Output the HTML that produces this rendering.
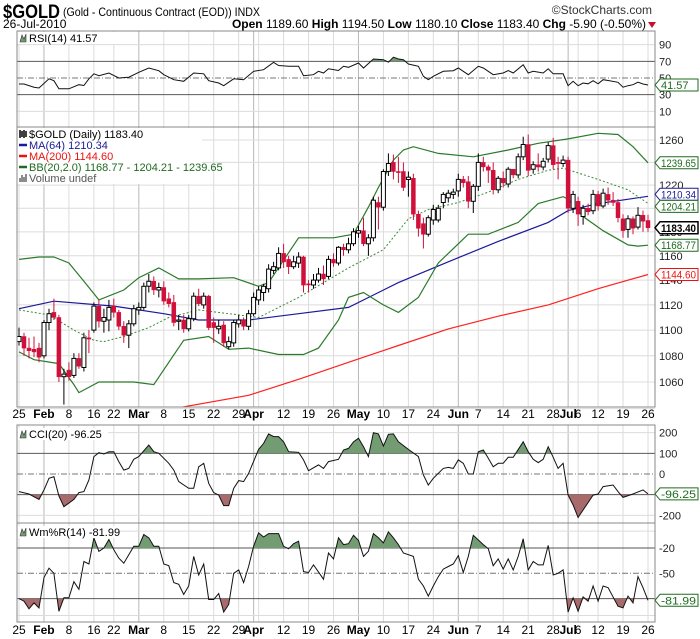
<!DOCTYPE html>
<html><head><meta charset="utf-8"><style>
html,body{margin:0;padding:0;background:#fff;}
svg{display:block;font-family:"Liberation Sans",Arial,sans-serif;}
</style></head><body>
<svg id="chart" width="700" height="639" viewBox="0 0 700 639" xmlns="http://www.w3.org/2000/svg"></svg>
<script>
// ---------- DATA ----------
const openP=[1091,1095,1086,1085,1086,1080,1106,1114,1110,1064,1069,1065,1078,1071,1094,1100,1119,1107,1108,1119,1114,1103,1096,1105,1116,1118,1135,1139,1132,1134,1125,1122,1107,1108,1101,1109,1127,1120,1127,1106,1101,1104,1087,1090,1105,1108,1103,1113,1124,1130,1133,1148,1150,1162,1157,1151,1154,1159,1137,1136,1140,1145,1143,1157,1154,1167,1165,1170,1179,1181,1170,1175,1205,1201,1232,1240,1232,1232,1225,1226,1195,1187,1178,1190,1190,1205,1209,1212,1215,1225,1223,1206,1219,1240,1236,1233,1216,1226,1221,1234,1229,1245,1256,1234,1238,1236,1243,1255,1240,1239,1242,1200,1206,1193,1200,1198,1212,1202,1212,1207,1205,1191,1182,1191,1184,1194,1189.6];
const highP=[1102,1098,1094,1095,1090,1108,1117,1125,1112,1070,1075,1082,1082,1098,1100,1122,1124,1117,1124,1125,1116,1107,1108,1120,1122,1138,1145,1143,1138,1139,1130,1128,1112,1112,1112,1130,1133,1130,1128,1110,1108,1107,1095,1108,1112,1110,1116,1130,1135,1137,1153,1155,1167,1170,1160,1160,1163,1160,1140,1145,1150,1152,1160,1162,1168,1170,1175,1183,1185,1192,1178,1210,1210,1234,1248,1247,1245,1240,1232,1230,1198,1192,1194,1203,1203,1214,1216,1217,1230,1228,1228,1221,1248,1245,1238,1240,1228,1232,1236,1233,1248,1263,1265,1241,1248,1244,1258,1262,1245,1246,1245,1215,1210,1203,1204,1216,1215,1217,1218,1214,1208,1195,1194,1193,1201,1198,1194.5];
const lowP=[1088,1080,1078,1079,1075,1078,1100,1108,1060,1043,1061,1063,1070,1068,1082,1098,1102,1098,1099,1110,1100,1090,1086,1103,1112,1116,1130,1128,1126,1120,1118,1103,1100,1098,1099,1107,1119,1117,1100,1090,1097,1087,1085,1087,1102,1100,1100,1111,1120,1123,1130,1145,1148,1150,1145,1149,1150,1130,1130,1133,1138,1136,1141,1151,1152,1160,1162,1168,1175,1168,1160,1172,1182,1198,1228,1225,1222,1215,1210,1190,1176,1166,1176,1186,1188,1200,1205,1208,1210,1218,1200,1196,1215,1232,1222,1212,1213,1218,1218,1226,1226,1242,1228,1230,1232,1233,1240,1234,1225,1236,1196,1196,1185,1186,1194,1195,1198,1200,1203,1202,1188,1175,1175,1178,1182,1180,1180.1];
const closeP=[1095,1086,1084,1083,1079,1106,1113,1110,1064,1066,1064,1078,1072,1094,1093,1119,1107,1110,1118,1114,1103,1096,1105,1117,1118,1135,1139,1132,1134,1123,1121,1106,1108,1101,1109,1127,1121,1127,1102,1102,1103,1090,1091,1106,1108,1103,1113,1126,1132,1135,1149,1151,1162,1155,1151,1155,1159,1136,1136,1140,1145,1141,1157,1154,1167,1165,1170,1180,1181,1170,1175,1207,1201,1232,1239,1232,1231,1218,1227,1195,1183,1178,1192,1199,1200,1212,1213,1214,1225,1222,1206,1219,1240,1236,1233,1216,1226,1222,1234,1229,1245,1256,1233,1238,1236,1241,1255,1238,1239,1242,1200,1212,1195,1200,1197,1212,1202,1213,1207,1205,1192,1181,1191,1183,1194,1189,1183.4];
const tickIdx=[0,5,10,15,19,24,29,34,39,44,47,53,58,63,68,73,78,83,88,92,97,102,107,110,112,116,121,126];
const tickLbl=["25","Feb","8","16","22","Mar","8","15","22","29","Apr","12","19","26","May","10","17","24","Jun","7","14","21","28","Jul","6","12","19","26"];
const tickMonth=[0,1,0,0,0,1,0,0,0,0,1,0,0,0,1,0,0,0,1,0,0,0,0,1,0,0,0,0];
const weekIdx=[0,5,10,15,19,24,29,34,39,44,48,53,58,63,68,73,78,83,88,92,97,102,107,112,116,121,126];
const monthIdx=[5,24,47,68,88,110];
const priceTicks=[1060,1080,1100,1120,1140,1160,1180,1200,1220,1240,1260];
const ma64Idx=[0,7,19,29,36,46,56,66,76,86,96,106,110,116,126];
const ma64Val=[1117,1123,1119,1113,1108,1108,1113,1118,1138,1155,1172,1188,1198,1204,1210.34];
const ma200Idx=[31,46,56,66,76,86,96,106,116,126];
const ma200Val=[1040,1050,1062,1075,1088,1101,1111,1120,1133,1144.6];
const bbUpIdx=[0,4,7,10,13,16,21,24,28,32,36,43,48,50,56,63,67,70,72,75,77,79,84,91,98,104,110,116,120,123,126];
const bbUpVal=[1157,1159,1159,1154,1139,1124,1132,1142,1150,1141,1141,1142,1135,1138,1175,1175,1178,1201,1218,1242,1251,1254,1248,1245,1251,1257,1261,1266,1265,1254,1239.65];
const bbLoIdx=[0,3,8,11,12,16,23,27,30,33,38,42,46,52,57,60,64,66,69,73,76,80,84,88,90,94,100,104,109,110,113,117,122,124,126];
const bbLoVal=[1083,1077,1074,1058,1052,1060,1060,1058,1075,1092,1095,1085,1086,1081,1081,1086,1108,1126,1130,1120,1114,1126,1154,1170,1178,1178,1188,1204,1210,1208,1193,1181,1169,1168,1168.77];
const bbMidIdx=[0,6,11,15,17,21,26,30,36,44,48,56,66,73,78,82,88,94,100,106,109,116,122,126];
const bbMidVal=[1116,1112,1100,1092,1091,1095,1102,1110,1116,1112,1110,1126,1150,1165,1191,1199,1205,1214,1225,1233,1235,1225,1216,1204.21];
const rsiIdx=[0,1,3,4,6,7,8,10,12,13,14,15,16,18,20,22,24,26,28,29,31,33,35,37,38,40,41,43,45,47,49,51,52,54,56,57,59,60,61,62,64,65,66,68,69,71,73,74,75,76,77,78,80,81,82,83,85,87,88,90,92,93,95,97,98,99,101,102,103,105,106,107,109,110,111,112,113,114,115,116,117,118,120,121,122,123,124,125,126];
const rsiVal=[42.8,42.8,39,38,49,46.8,37,37,42,41,49,55,52.8,56,50,51,56.8,62,58.8,54,48,46,56,55,46.8,44,40.8,49,48,58,60,68.8,65,64,64,52.8,54,58,56,61,59,64,62.8,68,62,72.8,72,69,75,72.8,72,66.8,64,52,48,52,58,58.8,62,54,64,62,54,56,59,56,66,56,58,56,61,55,55,40.8,46,40.8,44,43,46.8,43,48,47,44.8,39,40.8,42,45,42.8,41.57];
const cciIdx=[0,2,4,5,6,7,8,9,11,12,13,14,15,16,17,18,19,20,21,22,23,24,26,27,28,30,31,32,34,35,36,37,38,39,40,41,42,43,44,45,46,48,49,50,51,52,53,54,56,57,58,60,61,62,64,65,66,67,68,69,70,71,72,73,74,75,76,78,80,81,82,83,85,86,87,88,89,90,91,92,93,94,95,96,97,98,99,101,102,103,104,105,106,107,108,109,110,111,112,113,115,116,117,119,120,121,123,125,126];
const cciVal=[-85,-97,-123,-77,-21,-13,-106,-158,-123,-90,-85,-29,84,103,97,108,108,60,19,27,71,84,140,108,100,52,19,-37,-69,-69,35,52,-45,-90,-102,-153,-153,-69,-32,-37,3,119,148,194,181,181,156,108,105,68,16,44,27,60,71,116,124,156,173,132,84,200,194,135,192,194,156,119,84,-5,-53,-21,27,32,27,68,52,0,0,108,116,76,35,52,52,81,81,156,108,71,55,71,132,81,27,52,-102,-150,-210,-174,-102,-97,-61,-53,-85,-113,-97,-77,-96.25];
const wrIdx=[0,1,2,3,4,5,6,7,8,9,10,11,12,13,14,15,16,17,18,19,20,21,22,23,24,25,26,27,28,29,30,31,32,33,34,35,36,37,38,39,40,41,42,43,44,45,46,47,48,49,50,52,53,54,55,56,57,58,59,61,62,63,64,65,66,67,68,69,70,71,72,73,74,75,76,77,79,80,81,82,83,84,85,86,87,88,89,90,91,93,94,95,96,97,98,99,100,101,102,103,104,105,106,107,108,109,110,111,112,113,114,115,116,117,118,120,121,122,123,124,125,126];
const wrVal=[-80,-83,-92,-85,-91,-55,-44,-50,-95,-79,-79,-60,-69,-36,-39,-8,-24,-20,-10,-22,-32,-38,-28,-18,-18,-4,-8,-18,-18,-39,-41,-61,-63,-75,-65,-30,-52,-39,-81,-81,-74,-96,-87,-50,-46,-61,-42,-18,-2,-7,-3,-3,-18,-21,-15,-12,-48,-49,-40,-57,-26,-33,-8,-16,-15,-5,-11,-30,-24,-3,-8,-14,-1,-8,-16,-26,-30,-57,-65,-77,-65,-54,-45,-42,-39,-29,-49,-30,-5,-16,-21,-41,-33,-45,-33,-46,-30,-9,-46,-36,-40,-40,-17,-52,-50,-46,-96,-79,-95,-78,-83,-65,-83,-65,-67,-89,-91,-77,-85,-54,-67,-81.99];

// ---------- SCALES ----------
const NS="http://www.w3.org/2000/svg";
const svg=document.getElementById('chart');
const L=17,R=655;
const N=closeP.length;
function xOf(i){return 19+i*(648-19)/(N-1);}
function yMain(p){return 140+1400*(Math.log(1260)-Math.log(p));}
function yRsi(v){return 78-(v-50)*0.8333;}
function yCci(v){return 474-v*0.2067;}
function yWr(v){return 573.3-(v+50)*0.8444;}
function mk(tag,attrs,parent){const e=document.createElementNS(NS,tag);for(const k in attrs)e.setAttribute(k,attrs[k]);(parent||svg).appendChild(e);return e;}
function txt(x,y,s,attrs,parent){const e=mk('text',Object.assign({x:x,y:y},attrs||{}),parent);e.textContent=s;return e;}
function pts(idx,val,yf){return idx.map((i,k)=>xOf(i).toFixed(1)+','+yf(val[k]).toFixed(1)).join(' ');}

// ---------- HEADER ----------
let t;
t=txt(3,18,'$GOLD',{'font-size':'19','font-weight':'bold','textLength':'57','lengthAdjust':'spacingAndGlyphs'});

t=txt(63,16,'(Gold - Continuous Contract (EOD))  INDX',{'font-size':'12','textLength':'197','lengthAdjust':'spacingAndGlyphs'});

t=txt(652,14,'©StockCharts.com',{'font-size':'12','fill':'#333','text-anchor':'end'});

t=txt(3,28,'26-Jul-2010',{'font-size':'12'});

t=mk('text',{x:646,y:28,'font-size':'12','text-anchor':'end'});

t.innerHTML='<tspan font-weight="bold">Open</tspan> 1189.60 <tspan font-weight="bold">High</tspan> 1194.50 <tspan font-weight="bold">Low</tspan> 1180.10 <tspan font-weight="bold">Close</tspan> 1183.40 <tspan font-weight="bold">Chg</tspan> -5.90 (-0.50%)';
t=mk('path',{d:'M648,22 L656,22 L652,28 Z',fill:'#c8102e'});


// ---------- PANELS ----------
const panels=[{n:'rsi-panel',y0:31,y1:127},{n:'price-panel',y0:127,y1:407},{n:'cci-panel',y0:425,y1:523},{n:'williams-panel',y0:523,y1:622}];
panels.forEach(p=>{
  const r=mk('rect',{x:L,y:p.y0,width:R-L,height:p.y1-p.y0,fill:'#fff',stroke:'none'});
  
  weekIdx.forEach(i=>{
    const isM=monthIdx.indexOf(i)>=0;
    const g=mk('line',{x1:xOf(i),x2:xOf(i),y1:p.y0,y2:p.y1,stroke:isM?'#b8b8b8':'#dcdcdc','stroke-width':1});
    
  });
  monthIdx.forEach(i=>{
    if(weekIdx.indexOf(i)<0){const g=mk('line',{x1:xOf(i),x2:xOf(i),y1:p.y0,y2:p.y1,stroke:'#b8b8b8','stroke-width':1});
    }
  });
});
function hline(y,kind,name){
  const a={x1:L,x2:R,y1:y,y2:y,'stroke-width':1};
  if(kind==='grid'){a.stroke='#dcdcdc';}
  else if(kind==='dark'){a.stroke='#555';}
  else {a.stroke='#777';a['stroke-dasharray']='6,2,1,2';}
  const l=mk('line',a);
}
function rlabel(y,s,name){const e=txt(659,y+4,s,{'font-size':'11','fill':'#222'});}

[90,10].forEach(v=>{hline(yRsi(v),'grid','rsi-gridline');});
hline(yRsi(70),'dark','rsi-overbought-line');hline(yRsi(30),'dark','rsi-oversold-line');hline(yRsi(50),'dash','rsi-midline');
[90,70,50,30,10].forEach(v=>rlabel(yRsi(v),String(v),'rsi-axis-label'));
priceTicks.forEach(v=>{hline(yMain(v),'grid','price-gridline');rlabel(yMain(v),String(v),'price-axis-label');});
hline(yMain(1040),'grid','price-gridline');
hline(yCci(200),'grid','cci-gridline');hline(yCci(-200),'grid','cci-gridline');
hline(yCci(100),'dark','cci-upper-line');hline(yCci(-100),'dark','cci-lower-line');hline(yCci(0),'dash','cci-zero-line');
[200,100,0,-200].forEach(v=>rlabel(yCci(v),String(v),'cci-axis-label'));
hline(yWr(0),'grid','williams-gridline');hline(yWr(-100),'grid','williams-gridline');
hline(yWr(-20),'dark','williams-upper-line');hline(yWr(-80),'dark','williams-lower-line');hline(yWr(-50),'dash','williams-midline');
[-20,-50].forEach(v=>rlabel(yWr(v),String(v),'williams-axis-label'));

// ---------- OSCILLATOR FILLS + LINES ----------
let clipN=0;
function oscFill(idx,val,yf,th,above,color,y0,y1,name){
  const yT=yf(th);
  const id='c'+(clipN++);
  const cp=mk('clipPath',{id:id});
  mk('rect',{x:L,y:above?y0:yT,width:R-L,height:above?(yT-y0):(y1-yT)},cp);
  const p=pts(idx,val,yf)+' '+xOf(idx[idx.length-1]).toFixed(1)+','+yT+' '+xOf(idx[0]).toFixed(1)+','+yT;
  const pg=mk('polygon',{points:p,fill:color,'clip-path':'url(#'+id+')'});
  
}
const GF='#739c72',RF='#a86b6b';
oscFill(rsiIdx,rsiVal,yRsi,70,true,GF,31,127,'rsi-overbought-fill');
oscFill(rsiIdx,rsiVal,yRsi,30,false,RF,31,127,'rsi-oversold-fill');
oscFill(cciIdx,cciVal,yCci,100,true,GF,425,523,'cci-overbought-fill');
oscFill(cciIdx,cciVal,yCci,-100,false,RF,425,523,'cci-oversold-fill');
oscFill(wrIdx,wrVal,yWr,-20,true,GF,523,622,'williams-overbought-fill');
oscFill(wrIdx,wrVal,yWr,-80,false,RF,523,622,'williams-oversold-fill');
t=mk('polyline',{points:pts(rsiIdx,rsiVal,yRsi),fill:'none',stroke:'#111','stroke-width':1});

t=mk('polyline',{points:pts(cciIdx,cciVal,yCci),fill:'none',stroke:'#111','stroke-width':1});

t=mk('polyline',{points:pts(wrIdx,wrVal,yWr),fill:'none',stroke:'#111','stroke-width':1});


// ---------- PRICE OVERLAYS ----------
const mainClip=mk('clipPath',{id:'mainclip'});
mk('rect',{x:L,y:127,width:R-L,height:280},mainClip);
const gMain=mk('g',{'clip-path':'url(#mainclip)'});

t=mk('polyline',{points:pts(ma200Idx,ma200Val,yMain),fill:'none',stroke:'#ff2020','stroke-width':1.2},gMain);

t=mk('polyline',{points:pts(ma64Idx,ma64Val,yMain),fill:'none',stroke:'#1a1a9a','stroke-width':1.2},gMain);

t=mk('polyline',{points:pts(bbUpIdx,bbUpVal,yMain),fill:'none',stroke:'#2a7a2a','stroke-width':1.2},gMain);

t=mk('polyline',{points:pts(bbLoIdx,bbLoVal,yMain),fill:'none',stroke:'#2a7a2a','stroke-width':1.2},gMain);

t=mk('polyline',{points:pts(bbMidIdx,bbMidVal,yMain),fill:'none',stroke:'#3a8a3a','stroke-width':1,'stroke-dasharray':'2,2'},gMain);


for(let i=0;i<N;i++){
  const x=xOf(i),o=openP[i],c=closeP[i];
  const up=c>=o;
  const col=up?'#000':'#d0103a';
  const w=mk('line',{x1:x.toFixed(1),x2:x.toFixed(1),y1:yMain(highP[i]).toFixed(1),y2:yMain(lowP[i]).toFixed(1),stroke:col,'stroke-width':1},gMain);
  
  const yt=yMain(Math.max(o,c)),yb=yMain(Math.min(o,c));
  const b=mk('rect',{x:(x-2).toFixed(1),y:yt.toFixed(1),width:4,height:Math.max(1,yb-yt).toFixed(1),fill:up?'#fff':'#d0103a',stroke:up?'#000':'#d0103a','stroke-width':up?1:0.5},gMain);
  
}

panels.forEach(p=>{
  const r=mk('rect',{x:L,y:p.y0,width:R-L,height:p.y1-p.y0,fill:'none',stroke:'#888','stroke-width':1});
  
});

// ---------- X AXES ----------
[418,634].forEach((yy,ax)=>{
  tickIdx.forEach((i,k)=>{
    const e=txt(xOf(i),yy,tickLbl[k],{'font-size':'12','text-anchor':'middle','font-weight':tickMonth[k]?'bold':'normal'});
    
    
  });
});

// ---------- LEGENDS ----------
function legendIcon(x,y,color,name){const r=mk('path',{d:'M'+x+','+(y)+' l2,-7 l2,4 l2,-5 l0,8 z',fill:color,stroke:'#333','stroke-width':0.6});}
t=mk('rect',{x:18,y:32,width:100,height:12,fill:'#fff'});
legendIcon(20,42,'#739c72','rsi-legend-icon');
t=txt(29,42,'RSI(14) 41.57',{'font-size':'11'});
t=mk('rect',{x:18,y:128,width:184,height:56,fill:'#fff'});
const legRows=[['$GOLD (Daily) 1183.40','#000','legend-gold'],['MA(64) 1210.34','#1a1a9a','legend-ma64'],['MA(200) 1144.60','#ee1111','legend-ma200'],['BB(20,2.0) 1168.77 - 1204.21 - 1239.65','#1f6b1f','legend-bollinger'],['Volume undef','#555','legend-volume']];
legRows.forEach((r,k)=>{
  const y=138+k*11;
  if(k===1||k===2||k===3){const m=mk('line',{x1:19,x2:27,y1:y-4,y2:y-4,stroke:r[1],'stroke-width':2.5});}
  else {const m=mk('path',{d:k===0?'M20,'+y+' v-8 M22,'+(y-1)+' v-6 M24,'+y+' v-8 M26,'+(y-1)+' v-6':'M20,'+y+' v-4 M22,'+y+' v-7 M24,'+y+' v-5 M26,'+y+' v-8',stroke:k===0?'#000':'#666','stroke-width':1.5});}
  const e=txt(29,y,r[0],{'font-size':'11',fill:r[1]});
  
});
t=mk('rect',{x:18,y:428,width:90,height:12,fill:'#fff'});
legendIcon(20,438,'#739c72','cci-legend-icon');
t=txt(29,438,'CCI(20) -96.25',{'font-size':'11'});
t=mk('rect',{x:18,y:526,width:100,height:12,fill:'#fff'});
legendIcon(20,536,'#739c72','williams-legend-icon');
t=txt(29,536,'Wm%R(14) -81.99',{'font-size':'11'});

// ---------- VALUE TAGS ----------
function tag(y,s,color,bold,name){
  const g=mk('g',{});
  
  mk('path',{d:'M655,'+y+' L660,'+(y-6)+' L698,'+(y-6)+' L698,'+(y+6)+' L660,'+(y+6)+' Z',fill:'#fff',stroke:color,'stroke-width':bold?1.5:1},g);
  const a={'font-size':'11',fill:bold?'#000':color,'font-weight':bold?'bold':'normal'};
  if(s.length>5){a.textLength='35';a.lengthAdjust='spacingAndGlyphs';}
  txt(661,y+4,s,a,g);
}
tag(yRsi(41.57),'41.57','#1f6b1f',false,'rsi-value-tag');
tag(yMain(1239.65),'1239.65','#1f6b1f',false,'bb-upper-tag');
tag(yMain(1210.34)-2,'1210.34','#1a1a9a',false,'ma64-tag');
tag(yMain(1204.21)+3,'1204.21','#1f6b1f',false,'bb-middle-tag');
tag(yMain(1183.4),'1183.40','#000',true,'last-price-tag');
tag(yMain(1168.77),'1168.77','#1f6b1f',false,'bb-lower-tag');
tag(yMain(1144.6),'1144.60','#ee1111',false,'ma200-tag');
tag(yCci(-96.25),'-96.25','#1f6b1f',false,'cci-value-tag');
tag(yWr(-81.99),'-81.99','#1f6b1f',false,'williams-value-tag');
</script>
</body></html>
